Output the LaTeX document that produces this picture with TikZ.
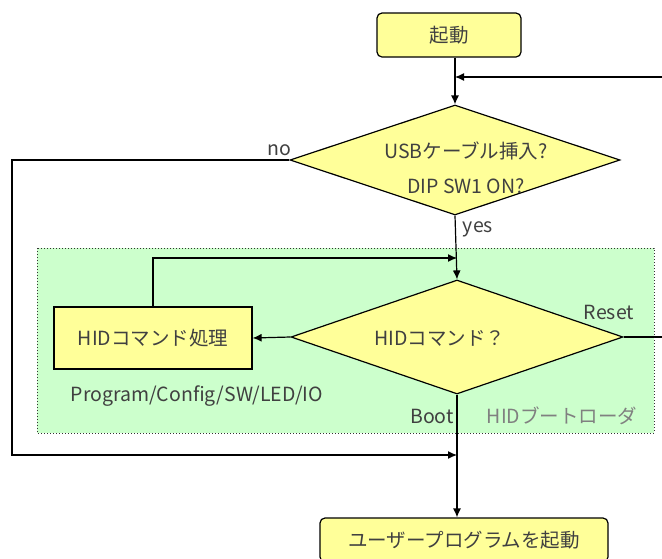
\documentclass[tikz,border=0pt]{standalone}
\usepackage{fontspec}
\setmainfont{Noto Sans CJK JP}
\usetikzlibrary{shapes.geometric,arrows.meta}

\definecolor{boxyellow}{RGB}{255,255,153}
\definecolor{loadergreen}{RGB}{204,255,204}
\definecolor{txtgray}{RGB}{64,64,64}
\definecolor{notegray}{RGB}{128,128,128}

\tikzset{every picture/.style={line width=1.2pt}}
\tikzset{
  termbox/.style={draw=black,fill=boxyellow,rounded corners=5pt,minimum width=144pt,minimum height=44pt,inner sep=0pt},
  procbox/.style={draw=black,fill=boxyellow,minimum width=198pt,minimum height=62pt,inner sep=0pt},
  choice/.style={draw=black,fill=boxyellow,shape=diamond,inner sep=0pt},
  lbl/.style={inner sep=0.75pt,text=txtgray,font=\fontsize{19.5}{22}\selectfont},
  flow/.style={-{Latex[length=9pt,width=8pt]}},
}

\begin{document}
\begin{tikzpicture}[x=1pt,y=1pt,yscale=-1,xscale=1]
\useasboundingbox (0,0) rectangle (662,558);
\clip (0,0) rectangle (662,558);

%Shape: Rectangle (loader area)
\draw [fill=loadergreen,draw=black!80,line width=1pt,dotted] (37,248) rectangle (654,433);

% Boxes
\node [termbox] (start) at (449,35) {};
\node [choice,minimum width=330pt,minimum height=110pt] (usb) at (455,160) {};
\node [choice,minimum width=332pt,minimum height=114pt] (hidcmd) at (457,337) {};
\node [procbox] (hidproc) at (153,338) {};
\node [termbox,minimum width=288pt] (user) at (464,540) {};

% Free ends
\coordinate (retin) at (662,77);
\coordinate (resetout) at (662,337);
\coordinate (nocorner) at (12,455);
\coordinate (merge) at (457,455);
\coordinate (loopin) at (457,258);

% Connectors
\draw [flow] (start.south -| usb.north) -- (usb.north);
\draw [flow] (retin) -- (retin -| usb.north);
\draw [flow] (usb.west) -| (nocorner) -- (merge);
\draw [flow] (usb.south) -- (hidcmd.north);
\draw [flow] (hidproc.north) |- (loopin);
\draw [flow] (hidcmd.west) -- (hidproc.east);
\draw (hidcmd.east) -- (resetout);
\draw [flow] (hidcmd.south) -- (hidcmd.south |- user.north);

% Text Node
\node [lbl] (tstart) at (start.center) {起動};
% Text Node
\node [lbl] (tusb) at (466,151) {USBケーブル挿入?};
% Text Node
\node [lbl] (tdip) at (466,186) {DIP SW1 ON?};
% Text Node
\node [lbl] (tcmd) at (440,338) {HIDコマンド？};
% Text Node
\node [lbl] (tproc) at (hidproc.center) {HIDコマンド処理};
% Text Node
\node [lbl] (tuser) at (user.center) {ユーザープログラムを起動};
% Text Node
\node [lbl] (tno) at (279,150) {no};
% Text Node
\node [lbl] (tyes) at (478,229) {yes};
% Text Node
\node [lbl] (treset) at (609,312) {Reset};
% Text Node
\node [lbl] (tboot) at (432,416) {Boot};
% Text Node
\node [lbl,text=notegray] (tloader) at (562,416) {HIDブートローダ};
% Text Node
\node [lbl] (tcmds) at (197,396) {Program/Config/SW/LED/IO};

\end{tikzpicture}
\end{document}
